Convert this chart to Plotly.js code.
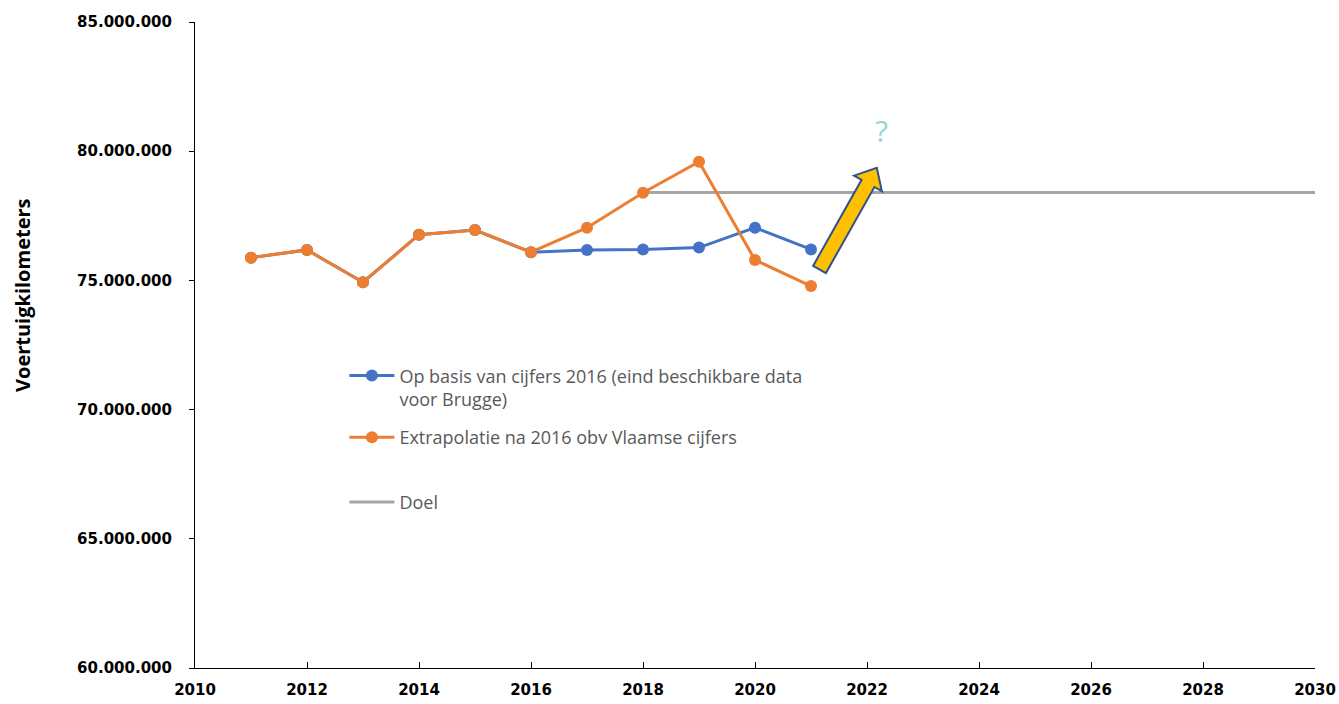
<!DOCTYPE html>
<html>
<head>
<meta charset="utf-8">
<script src="https://cdn.plot.ly/plotly-3.0.1.min.js"></script>
<style>html,body{margin:0;padding:0;background:#fff;}#chart{width:1339px;height:704px;}</style>
</head>
<body>
<div id="chart"></div>
<script>
// ---- data ----
const years = [2011, 2012, 2013, 2014, 2015, 2016, 2017, 2018, 2019, 2020, 2021];
const blueValues = [75880000, 76180000, 74930000, 76770000, 76950000, 76090000, 76180000, 76200000, 76270000, 77040000, 76200000];
const orangeValues = [75880000, 76180000, 74930000, 76770000, 76950000, 76090000, 77040000, 78390000, 79590000, 75790000, 74780000];
const doelYears = [2018, 2030];
const doelValues = [78400000, 78400000];
const seriesNames = ["Op basis van cijfers 2016 (eind beschikbare data<br>voor Brugge)", "Extrapolatie na 2016 obv Vlaamse cijfers", "Doel"];
const yTitle = "Voertuigkilometers";

// ---- layout geometry ----
const W = 1339, H = 704;
const M = {l: 195, r: 24, t: 22, b: 36};
const xr = [2010, 2030], yr = [60000000, 85000000];
const pw = W - M.l - M.r, ph = H - M.t - M.b;
function pxToData(px, py) {
  return [xr[0] + (px - M.l) / pw * (xr[1] - xr[0]), yr[1] - (py - M.t) / ph * (yr[1] - yr[0])];
}
// decorative block arrow (pixel outline -> axis coordinates)
const arrowPx = [[813.1,265.9],[861.6,179.8],[854.1,175.6],[876.8,167.7],[881.9,191.2],[874.4,187.0],[825.9,273.1]];
const arrowPath = arrowPx.map((p, i) => { const d = pxToData(p[0], p[1]); return (i ? 'L' : 'M') + d[0] + ',' + d[1]; }).join(' ') + ' Z';
const qPos = pxToData(881, 130);

const legendFont = {family: "Open Sans", size: 18, color: "#595959"};

const traces = [
  {x: doelYears, y: doelValues, name: seriesNames[2], mode: 'lines', line: {color: '#A5A5A5', width: 3}, legendrank: 4, legendgroup: 'g3'},
  {x: years, y: blueValues, name: seriesNames[0], mode: 'lines+markers', line: {color: '#4472C4', width: 3}, marker: {color: '#4472C4', size: 12}, legendrank: 1, legendgroup: 'g1'},
  {x: years, y: orangeValues, name: seriesNames[1], mode: 'lines+markers', line: {color: '#ED7D31', width: 3}, marker: {color: '#ED7D31', size: 12}, legendrank: 2, legendgroup: 'g2'},
  {x: [null], y: [null], name: ' ', mode: 'lines', line: {color: 'rgba(0,0,0,0)', width: 0}, legendrank: 3, legendgroup: 'g3', hoverinfo: 'skip'}
];

const layout = {
  width: W, height: H,
  margin: M,
  paper_bgcolor: '#fff', plot_bgcolor: '#fff',
  separators: ',.',
  showlegend: true,
  legend: {x: 0.1334, y: 0.481, xanchor: 'left', yanchor: 'top', font: legendFont, bgcolor: 'rgba(0,0,0,0)', valign: 'top', traceorder: 'grouped', tracegroupgap: 12, itemwidth: 45},
  xaxis: {
    range: xr, dtick: 2, tick0: 2010, showgrid: false, zeroline: false,
    showline: true, linecolor: '#000', linewidth: 1,
    ticks: 'inside', ticklen: 6, tickcolor: '#000', ticklabelstandoff: 8,
    tickfont: {family: 'DejaVu Sans', size: 15, color: '#000', weight: 'bold'}
  },
  yaxis: {
    range: yr, dtick: 5000000, tick0: 60000000, tickformat: ',d', showgrid: false, zeroline: false,
    showline: true, linecolor: '#000', linewidth: 1,
    ticks: 'outside', ticklen: 5, tickcolor: '#000', ticklabelstandoff: 14,
    tickfont: {family: 'DejaVu Sans', size: 15, color: '#000', weight: 'bold'}
  },
  shapes: [
    {type: 'path', xref: 'x', yref: 'y', path: arrowPath, fillcolor: '#FFC000', line: {color: '#2F528F', width: 2}}
  ],
  annotations: [
    {x: qPos[0], y: qPos[1], xref: 'x', yref: 'y', text: '?', showarrow: false, font: {family: 'Open Sans', size: 30, color: '#8FD9D0'}},
    {x: (22 - M.l) / pw, y: 1 - (295 - M.t) / ph, xref: 'paper', yref: 'paper', xanchor: 'center', yanchor: 'middle', textangle: -90,
     text: yTitle, showarrow: false, font: {family: 'Open Sans', size: 20, color: '#000', weight: 'bold'}}
  ]
};

Plotly.newPlot('chart', traces, layout, {displayModeBar: false, staticPlot: true});
</script>
</body>
</html>
